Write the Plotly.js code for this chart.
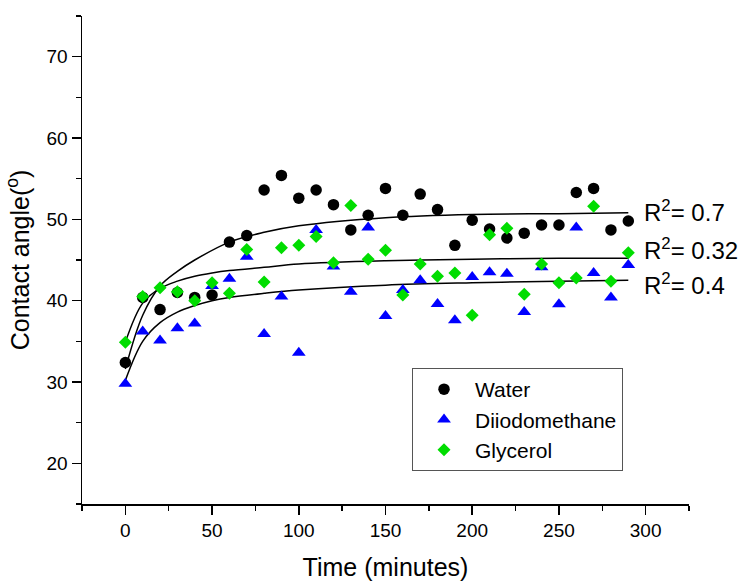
<!DOCTYPE html>
<html>
<head>
<meta charset="utf-8">
<script src="https://cdn.plot.ly/plotly-3.0.1.min.js"></script>
<style>html,body{margin:0;padding:0;background:#fff;}</style>
</head>
<body>
<div id="chart" style="width:744px;height:581px;"></div>
<script>
// Measured data (minutes, contact angle in degrees)
const time = [0,10,20,30,40,50,60,70,80,90,100,110,120,130,140,150,160,170,180,190,200,210,220,230,240,250,260,270,280,290];
const water = [32.4,40.4,38.9,41.0,40.4,40.7,47.2,48.0,53.6,55.4,52.6,53.6,51.8,48.7,50.5,53.8,50.5,53.1,51.2,46.8,49.9,48.8,47.7,48.3,49.3,49.3,53.3,53.8,48.7,49.8];
const diiodomethane = [29.8,36.2,35.1,36.6,37.2,41.8,42.7,45.4,35.9,40.5,33.6,48.7,44.2,41.1,49.0,38.1,41.3,42.5,39.6,37.6,42.9,43.5,43.3,38.6,44.1,39.55,49.0,43.4,40.4,44.4];
const glycerol = [34.9,40.5,41.6,41.1,40.0,42.2,40.9,46.3,42.3,46.5,46.8,47.9,44.65,51.7,45.1,46.2,40.7,44.5,43.0,43.4,38.2,48.1,48.9,40.8,44.5,42.2,42.8,51.6,42.4,45.9];

// Fit curves
const fitWaterT = [0,10,20,30,40,60,80,100,150,200,250,290];
const fitWaterY = [31.6,38.2,41.8,43.6,45.0,47.2,48.4,49.2,50.2,50.6,50.7,50.8];
const fitGlyT = [0,10,20,30,40,50,60,80,100,150,200,250,290];
const fitGlyY = [34.9,39.7,41.5,42.4,43.0,43.4,43.7,44.1,44.5,44.9,45.1,45.2,45.2];
const fitDiiT = [0,10,20,30,40,50,60,80,100,150,200,250,290];
const fitDiiY = [30.2,35.0,37.3,38.6,39.4,40.0,40.4,40.9,41.3,41.9,42.2,42.4,42.5];

const r2Labels = ['R<sup>2</sup>= 0.7','R<sup>2</sup>= 0.32','R<sup>2</sup>= 0.4'];
const r2Y = [51.0, 46.3, 42.1];

const FONT = 'Arial, "Liberation Sans", sans-serif';
const fitLine = {color:'#000', width:1.5, shape:'spline', smoothing:1};

const traces = [
  {x:fitWaterT, y:fitWaterY, mode:'lines', line:fitLine, showlegend:false, hoverinfo:'skip'},
  {x:fitGlyT, y:fitGlyY, mode:'lines', line:fitLine, showlegend:false, hoverinfo:'skip'},
  {x:fitDiiT, y:fitDiiY, mode:'lines', line:fitLine, showlegend:false, hoverinfo:'skip'},
  {x:time, y:water, mode:'markers', name:'Water', marker:{symbol:'circle', size:11.5, color:'#000'}},
  {x:time, y:diiodomethane, mode:'markers', name:'Diiodomethane', marker:{symbol:'triangle-up', size:12, color:'#0000ff'}},
  {x:time, y:glycerol, mode:'markers', name:'Glycerol', marker:{symbol:'diamond', size:10, color:'#00dd00'}}
];

const annotations = r2Labels.map((t,i)=>({
  x:298, y:r2Y[i], xref:'x', yref:'y', text:t, showarrow:false,
  xanchor:'left', yanchor:'middle', font:{family:FONT, size:24, color:'#000'}
}));

const layout = {
  width:744, height:581,
  margin:{l:82, r:55, t:16, b:77},
  paper_bgcolor:'#fff', plot_bgcolor:'#fff',
  font:{family:FONT, color:'#000'},
  showlegend:true,
  legend:{x:0.5437, y:0.2787, xanchor:'left', yanchor:'top', bordercolor:'#555', borderwidth:1,
          font:{family:FONT, size:21, color:'#000'}, itemwidth:52, bgcolor:'#fff', tracegroupgap:0},
  xaxis:{range:[-25,325], tick0:0, dtick:50, showgrid:false, zeroline:false,
         showline:true, linecolor:'#000', linewidth:1.5,
         ticks:'outside', ticklen:9, tickwidth:1.5, tickcolor:'#000',
         minor:{ticks:'outside', ticklen:5, tickwidth:1.5, tickcolor:'#000', dtick:25, tick0:0, showgrid:false},
         tickfont:{family:FONT, size:19, color:'#000'},
         title:{text:'Time (minutes)', font:{family:FONT, size:25, color:'#000'}, standoff:18}},
  yaxis:{range:[15,75], tick0:0, dtick:10, showgrid:false, zeroline:false,
         showline:true, linecolor:'#000', linewidth:1.5,
         ticks:'outside', ticklen:9, tickwidth:1.5, tickcolor:'#000',
         minor:{ticks:'outside', ticklen:5, tickwidth:1.5, tickcolor:'#000', dtick:5, tick0:0, showgrid:false},
         tickfont:{family:FONT, size:19, color:'#000'},
         title:{text:'Contact angle(<sup>o</sup>)', font:{family:FONT, size:25, color:'#000'}, standoff:10}},
  annotations:annotations
};

Plotly.newPlot('chart', traces, layout, {displayModeBar:false, staticPlot:true});
</script>
</body>
</html>
